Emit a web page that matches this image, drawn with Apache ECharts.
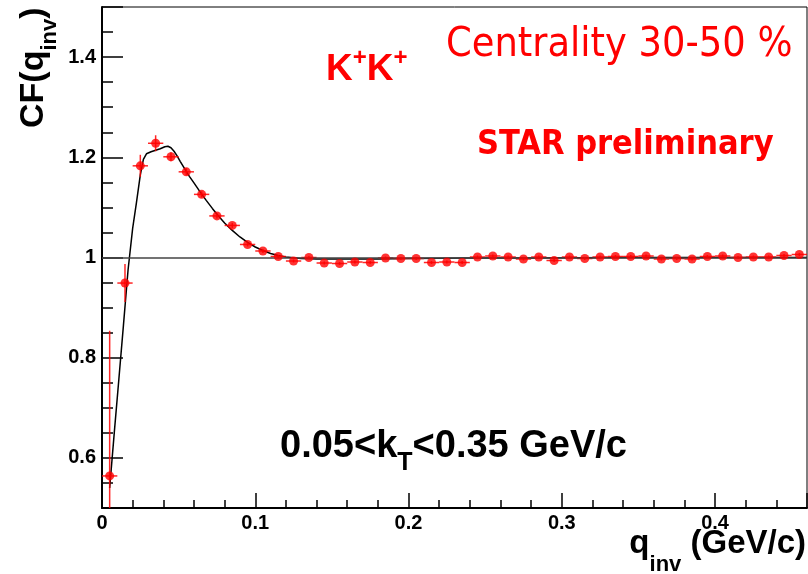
<!DOCTYPE html>
<html>
<head>
<meta charset="utf-8">
<script src="https://cdn.jsdelivr.net/npm/echarts@6/dist/echarts.min.js"></script>
<style>
  html, body { margin: 0; padding: 0; background: #fff; }
  #chart { width: 808px; height: 574px; }
</style>
</head>
<body>
<div id="chart"></div>
<script>
// K+K+ correlation function versus q_inv, centrality 30-50 %

// bin centres (GeV/c)
const qBins = [
  0.005, 0.015, 0.025, 0.035, 0.045, 0.055, 0.065, 0.075, 0.085, 0.095,
  0.105, 0.115, 0.125, 0.135, 0.145, 0.155, 0.165, 0.175, 0.185, 0.195,
  0.205, 0.215, 0.225, 0.235, 0.245, 0.255, 0.265, 0.275, 0.285, 0.295,
  0.305, 0.315, 0.325, 0.335, 0.345, 0.355, 0.365, 0.375, 0.385, 0.395,
  0.405, 0.415, 0.425, 0.435, 0.445, 0.455
];
// measured CF(q_inv)
const cfValues = [
  0.564, 0.949, 1.183, 1.228, 1.201, 1.171, 1.126, 1.083, 1.064, 1.026,
  1.013, 1.002, 0.993, 1.000, 0.989, 0.988, 0.991, 0.990, 0.999, 0.998,
  0.998, 0.990, 0.991, 0.990, 1.001, 1.003, 1.001, 0.997, 1.001, 0.994,
  1.001, 0.998, 1.001, 1.002, 1.002, 1.003, 0.997, 0.998, 0.997, 1.002,
  1.003, 1.000, 1.001, 1.001, 1.004, 1.006
];
// statistical errors on CF
const cfErrors = [
  0.290, 0.038, 0.022, 0.016, 0.009, 0.007, 0.006, 0.005, 0.005, 0.004,
  0.004, 0.003, 0.003, 0.003, 0.003, 0.003, 0.003, 0.003, 0.003, 0.003,
  0.003, 0.003, 0.003, 0.003, 0.003, 0.003, 0.003, 0.003, 0.003, 0.003,
  0.003, 0.003, 0.003, 0.003, 0.003, 0.003, 0.003, 0.003, 0.003, 0.003,
  0.003, 0.003, 0.003, 0.003, 0.003, 0.003
];
const binHalfWidth = 0.005;

// fit curve
const fitQ = [
  0.005, 0.008, 0.011, 0.014, 0.017, 0.020, 0.0225, 0.025, 0.027, 0.029,
  0.032, 0.035, 0.038, 0.041, 0.043, 0.045, 0.047, 0.049, 0.051, 0.054,
  0.057, 0.060, 0.064, 0.068, 0.072, 0.076, 0.080, 0.085, 0.090, 0.095,
  0.100, 0.105, 0.110, 0.115, 0.120, 0.130, 0.140, 0.160, 0.180, 0.200,
  0.240, 0.280, 0.340, 0.400, 0.460
];
const fitCF = [
  0.540, 0.650, 0.757, 0.865, 0.975, 1.058, 1.110, 1.165, 1.196, 1.207,
  1.211, 1.214, 1.217, 1.221, 1.222, 1.219, 1.212, 1.203, 1.192, 1.177,
  1.162, 1.149, 1.131, 1.114, 1.098, 1.083, 1.069, 1.054, 1.041, 1.030,
  1.021, 1.014, 1.008, 1.004, 1.001, 0.998, 0.997, 0.997, 0.997, 0.998,
  0.999, 0.999, 1.000, 1.000, 1.000
];
const referenceLevel = 1;

const xRange = [0, 0.46];
const yRange = [0.5, 1.5];

const RED = '#ff0000';
const HELV = '"Liberation Sans", Arial, Helvetica, sans-serif';
const TAHOMA = '"DejaVu Sans Condensed", "DejaVu Sans", sans-serif';

const points = qBins.map((q, i) => [q, cfValues[i]]);
const errorItems = qBins.map((q, i) => [q, cfValues[i], cfErrors[i]]);
const fitLine = fitQ.map((q, i) => [q, fitCF[i]]);

// --- text runs with sub/superscripts, laid out by measured widths ---
const measureCtx = document.createElement('canvas').getContext('2d');
function widthOf(text, size, weight, family) {
  measureCtx.font = weight + ' ' + size + 'px ' + family;
  return measureCtx.measureText(text).width;
}
// parts: {t, s, dy}; baseline at local y = 0
function runChildren(parts, weight, family, color) {
  let x = 0;
  const kids = [];
  parts.forEach(p => {
    kids.push({
      type: 'text',
      x: x,
      y: (p.dy || 0) - 0.34 * p.s,
      style: {
        text: p.t, fontSize: p.s, fontWeight: weight, fontFamily: family,
        fill: color, align: 'left', verticalAlign: 'middle'
      }
    });
    x += widthOf(p.t, p.s, weight, family);
  });
  return { kids, width: x };
}
function textRun(parts, x, baseline, opts) {
  const o = Object.assign({ weight: 'bold', family: HELV, color: '#000', rotation: 0, alignRight: false }, opts || {});
  const r = runChildren(parts, o.weight, o.family, o.color);
  return {
    type: 'group',
    x: o.alignRight ? x - r.width : x,
    y: baseline,
    rotation: o.rotation,
    children: r.kids
  };
}

const graphics = [
  // y axis title, reading upward
  textRun([{ t: 'CF(q', s: 34 }, { t: 'inv', s: 22, dy: 12 }, { t: ')', s: 34 }], 45, 128, { rotation: Math.PI / 2 }),
  // x axis title
  textRun([{ t: 'q', s: 33 }, { t: 'inv', s: 22, dy: 17 }, { t: ' (GeV/c)', s: 33 }], 806, 555, { alignRight: true }),
  // pair label
  textRun([{ t: 'K', s: 37 }, { t: '+', s: 24, dy: -15 }, { t: 'K', s: 37 }, { t: '+', s: 24, dy: -15 }], 326, 82, { color: RED }),
  // kT selection
  textRun([{ t: '0.05<k', s: 38 }, { t: 'T', s: 25, dy: 13 }, { t: '<0.35 GeV/c', s: 38 }], 280, 459),
  // centrality
  textRun([{ t: 'Centrality 30-50 %', s: 41 }], 446, 59, { weight: 'normal', family: TAHOMA, color: RED }),
  // preliminary tag
  textRun([{ t: 'STAR preliminary', s: 34 }], 477, 157, { family: TAHOMA, color: RED })
];

const chart = echarts.init(document.getElementById('chart'), null, { renderer: 'canvas' });

const tickLabel = {
  color: '#000', fontSize: 20, fontWeight: 'bold', fontFamily: HELV
};

chart.setOption({
  animation: false,
  backgroundColor: '#fff',
  grid: {
    left: 102, right: 1, top: 7, bottom: 66,
    show: true, borderColor: '#000', borderWidth: 1, backgroundColor: 'transparent'
  },
  xAxis: {
    type: 'value', min: xRange[0], max: xRange[1], interval: 0.1,
    axisLine: { show: true, onZero: false, lineStyle: { color: '#000', width: 2 } },
    axisTick: { show: true, inside: true, length: 15, lineStyle: { color: '#000', width: 1.5 } },
    minorTick: { show: true, splitNumber: 5, length: 8, lineStyle: { color: '#000', width: 1.5 } },
    splitLine: { show: false },
    axisLabel: Object.assign({ showMaxLabel: false, margin: 5 }, tickLabel)
  },
  yAxis: {
    type: 'value', min: yRange[0], max: yRange[1], splitNumber: 5,
    axisLine: { show: true, onZero: false, lineStyle: { color: '#000', width: 2 } },
    axisTick: { show: true, inside: true, length: 21, lineStyle: { color: '#000', width: 1.5 } },
    minorTick: { show: true, splitNumber: 4, length: 11, lineStyle: { color: '#000', width: 1.5 } },
    splitLine: { show: false },
    axisLabel: Object.assign({ showMinLabel: false, showMaxLabel: false, margin: 6 }, tickLabel)
  },
  graphic: graphics,
  series: [
    {
      name: 'fit',
      type: 'line',
      data: fitLine,
      showSymbol: false,
      symbol: 'none',
      smooth: false,
      clip: true,
      lineStyle: { color: '#000', width: 1.5 },
      z: 3,
      markLine: {
        silent: true,
        symbol: ['none', 'none'],
        label: { show: false },
        lineStyle: { color: '#444', width: 1.5, type: 'solid' },
        data: [{ yAxis: referenceLevel }]
      }
    },
    {
      name: 'errors',
      type: 'custom',
      data: errorItems,
      clip: true,
      z: 4,
      renderItem: function (params, api) {
        const q = api.value(0), cf = api.value(1), err = api.value(2);
        const left = api.coord([q - binHalfWidth, cf]);
        const right = api.coord([q + binHalfWidth, cf]);
        const top = api.coord([q, cf + err]);
        const bottom = api.coord([q, cf - err]);
        const style = { stroke: RED, lineWidth: 1.5, opacity: 0.85 };
        return {
          type: 'group',
          children: [
            { type: 'line', shape: { x1: left[0], y1: left[1], x2: right[0], y2: right[1] }, style: style },
            { type: 'line', shape: { x1: top[0], y1: top[1], x2: bottom[0], y2: bottom[1] }, style: style }
          ]
        };
      }
    },
    {
      name: 'CF',
      type: 'scatter',
      data: points,
      symbol: 'circle',
      symbolSize: 9,
      itemStyle: { color: RED },
      z: 5
    }
  ]
});
</script>
</body>
</html>
